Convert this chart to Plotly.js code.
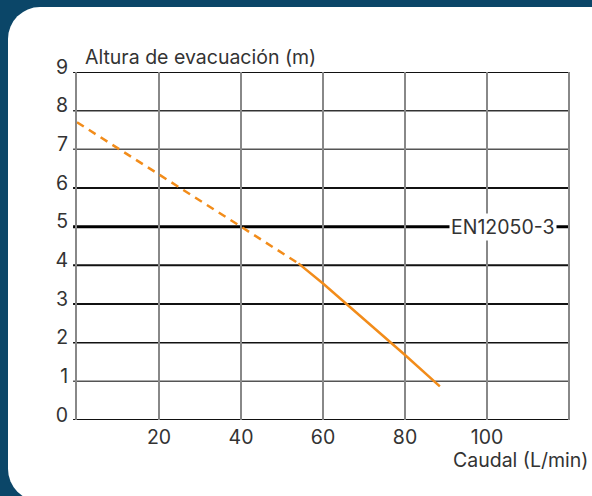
<!DOCTYPE html>
<html>
<head>
<meta charset="utf-8">
<script src="https://cdn.plot.ly/plotly-3.0.1.min.js"></script>
<style>
  html, body { margin:0; padding:0; width:592px; height:496px; overflow:hidden; background:#0b4668; }
  #card { position:absolute; left:8px; top:7px; width:640px; height:494px; background:#ffffff; border-radius:32px; }
  #chart { position:absolute; left:0; top:0; width:592px; height:496px; }
</style>
</head>
<body>
<div id="card"></div>
<div id="chart"></div>
<script>
// Data
const dashedFlow = [0, 20, 40, 54];
const dashedHead = [7.7, 6.36, 5.0, 4.05];
const solidFlow = [54, 60, 80, 88.5];
const solidHead = [4.05, 3.53, 1.68, 0.87];
const xTicks = [20, 40, 60, 80, 100];
const yTicks = [0, 1, 2, 3, 4, 5, 6, 7, 8, 9];
const refLevel = 5;
const refLabel = "EN12050-3";
const xTitle = "Caudal (L/min)";
const yTitle = "Altura de evacuación (m)";

const FONT = "Inter, Open Sans, sans-serif";
const TXT = "#333333";
const ORANGE = "#f28c1a";
const FS = 19.5;

// Horizontal grid line styles (by level)
const gridStyle = {
  0: {c: "#111", w: 2}, 1: {c: "#555", w: 1.5}, 2: {c: "#111", w: 1.5},
  3: {c: "#111", w: 2}, 4: {c: "#111", w: 2}, 6: {c: "#111", w: 2},
  7: {c: "#555", w: 1.5}, 8: {c: "#333", w: 1.5}, 9: {c: "#111", w: 2}
};

const shapes = [];
yTicks.forEach(v => {
  if (v === refLevel) return;
  const s = gridStyle[v];
  shapes.push({type: "line", xref: "paper", yref: "y", x0: -0.008, x1: 1, y0: v, y1: v,
    line: {color: s.c, width: s.w}, layer: "below"});
});
shapes.push({type: "line", xref: "paper", yref: "y", x0: -0.008, x1: 1, y0: refLevel, y1: refLevel,
  line: {color: "#000", width: 3}, layer: "below"});
// right border
shapes.push({type: "line", xref: "paper", yref: "paper", x0: 1, x1: 1, y0: 0, y1: 1,
  line: {color: "#888", width: 2}, layer: "below"});

const traces = [
  {x: dashedFlow, y: dashedHead, mode: "lines", type: "scatter",
   line: {color: ORANGE, width: 2.5, dash: "8px,6px"}, hoverinfo: "skip", cliponaxis: false},
  {x: solidFlow, y: solidHead, mode: "lines", type: "scatter",
   line: {color: ORANGE, width: 2.5}, hoverinfo: "skip", cliponaxis: false}
];

const layout = {
  width: 592, height: 496,
  margin: {l: 77, r: 23, t: 72, b: 76},
  paper_bgcolor: "rgba(0,0,0,0)",
  plot_bgcolor: "rgba(0,0,0,0)",
  showlegend: false,
  font: {family: FONT, color: TXT, size: FS},
  xaxis: {
    range: [0, 120], tickvals: xTicks, ticktext: xTicks.map(String),
    showgrid: true, gridcolor: "#888", gridwidth: 2,
    zeroline: false, showline: false, ticks: "", ticklabelstandoff: 3,
    tickfont: {family: FONT, size: FS, color: TXT}, fixedrange: true
  },
  yaxis: {
    range: [0, 9], tickvals: yTicks, ticktext: yTicks.map(String),
    showgrid: false, zeroline: false, showline: true, linecolor: "#888", linewidth: 2,
    ticks: "", ticklabelshift: -5, ticklabelstandoff: 3,
    tickfont: {family: FONT, size: FS, color: TXT}, fixedrange: true
  },
  shapes: shapes,
  annotations: [
    {xref: "paper", yref: "paper", x: 0.012, y: 1.0, xanchor: "left", yanchor: "bottom", yshift: 1,
     text: yTitle, showarrow: false, font: {family: FONT, size: FS, color: TXT}},
    {xref: "paper", yref: "paper", x: 1.043, y: 0, xanchor: "right", yanchor: "top", yshift: -26,
     text: xTitle, showarrow: false, font: {family: FONT, size: FS, color: TXT}},
    {xref: "x", yref: "y", x: 103.8, y: refLevel, xanchor: "center", yanchor: "middle",
     text: refLabel, showarrow: false, bgcolor: "#ffffff", borderpad: 1,
     font: {family: FONT, size: FS, color: TXT}}
  ]
};

Plotly.newPlot("chart", traces, layout, {displayModeBar: false, staticPlot: true});
</script>
</body>
</html>
